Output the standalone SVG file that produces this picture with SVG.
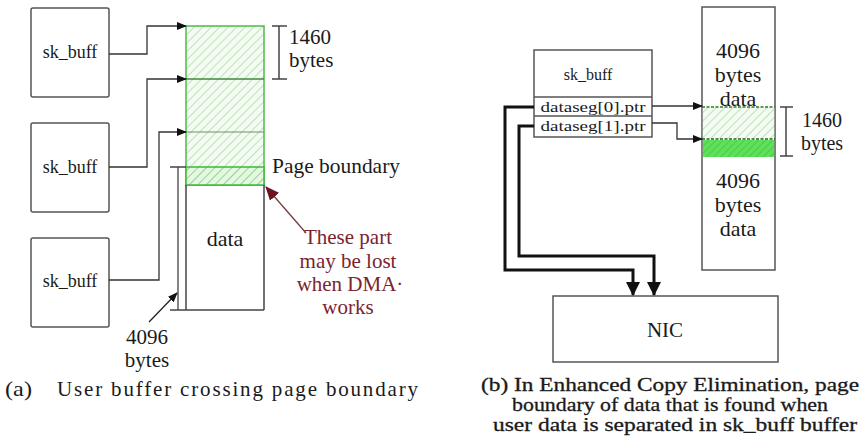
<svg xmlns="http://www.w3.org/2000/svg" width="859" height="447" viewBox="0 0 859 447">
<style>
text{font-family:"Liberation Serif","Times New Roman",serif;fill:#1a1a1a}
.box{fill:#fff;stroke:#555;stroke-width:1.5}
.ln{fill:none;stroke:#333;stroke-width:1.3}
.thick{fill:none;stroke:#111;stroke-width:3}
.red{fill:#7a2430}
.cap{stroke:#1a1a1a;stroke-width:0.3}
</style>
<defs>
<pattern id="hatch" patternUnits="userSpaceOnUse" width="6" height="6" patternTransform="rotate(45)">
<rect width="6" height="6" fill="#f4fbf2"/>
<line x1="0" y1="0" x2="0" y2="6" stroke="#9ed69a" stroke-width="1.3"/>
</pattern>
<pattern id="hatch2" patternUnits="userSpaceOnUse" width="6" height="6" patternTransform="rotate(45)">
<rect width="6" height="6" fill="#e6f7e2"/>
<line x1="0" y1="0" x2="0" y2="6" stroke="#6cc86a" stroke-width="1.4"/>
</pattern>
<pattern id="hatch3" patternUnits="userSpaceOnUse" width="5" height="5" patternTransform="rotate(45)">
<rect width="5" height="5" fill="#5ee05a"/>
<line x1="0" y1="0" x2="0" y2="5" stroke="#3cc23a" stroke-width="1.3"/>
</pattern>
<marker id="ah" markerWidth="10" markerHeight="8" refX="9" refY="4" orient="auto" markerUnits="userSpaceOnUse">
<path d="M0,0 L10,4 L0,8 Z" fill="#111"/>
</marker>
<marker id="ahb" markerWidth="14" markerHeight="14" refX="13" refY="7" orient="auto" markerUnits="userSpaceOnUse">
<path d="M0,0 L14,7 L0,14 Z" fill="#111"/>
</marker>
<marker id="ahr" markerWidth="14" markerHeight="12" refX="13" refY="6" orient="auto" markerUnits="userSpaceOnUse">
<path d="M0,0 L14,6 L0,12 Z" fill="#6e1420"/>
</marker>
</defs>

<!-- Part (a) -->
<g id="skbuff-a1"><rect class="box" x="31" y="8" width="78" height="89" rx="2"/><text x="70" y="58" font-size="18" text-anchor="middle">sk_buff</text></g>
<g id="skbuff-a2"><rect class="box" x="31" y="123" width="78" height="89" rx="2"/><text x="70" y="173" font-size="18" text-anchor="middle">sk_buff</text></g>
<g id="skbuff-a3"><rect class="box" x="31" y="238" width="78" height="89" rx="2"/><text x="70" y="287" font-size="18" text-anchor="middle">sk_buff</text></g>

<g id="page-a">
<rect x="186" y="26" width="78" height="159" fill="url(#hatch)" stroke="#4cbc48" stroke-width="1.5"/>
<rect x="186" y="167" width="78" height="18" fill="url(#hatch2)" stroke="#3db83a" stroke-width="1.5"/>
<line x1="186" y1="79" x2="264" y2="79" stroke="#3f8a3c" stroke-width="1.5"/>
<line x1="186" y1="132" x2="264" y2="132" stroke="#6f8f6c" stroke-width="1.2"/>
<path d="M186,185 V310 M264,185 V310 M170,310 H264" fill="none" stroke="#444" stroke-width="1.5"/>
<text x="225" y="246" font-size="22" text-anchor="middle">data</text>
</g>

<g id="dim-a">
<path d="M272,26 H287 M279,26 V79 M272,79 H287" fill="none" stroke="#444" stroke-width="1.5"/>
<text x="289" y="44" font-size="21">1460</text>
<text x="289" y="67" font-size="21">bytes</text>
<path d="M170,167 H186 M178,167 V310" fill="none" stroke="#444" stroke-width="1.3"/>
<text x="147" y="344" font-size="21" text-anchor="middle">4096</text>
<text x="147" y="367" font-size="21" text-anchor="middle">bytes</text>
<text x="272" y="173" font-size="21" textLength="128" lengthAdjust="spacingAndGlyphs">Page boundary</text>
<text class="red" x="348" y="244" font-size="21" text-anchor="middle">These part</text>
<text class="red" x="348" y="268" font-size="21" text-anchor="middle">may be lost</text>
<text class="red" x="350" y="291" font-size="21" text-anchor="middle">when DMA·</text>
<text class="red" x="348" y="314" font-size="21" text-anchor="middle">works</text>
</g>

<g id="connectors-a">
<path class="ln" d="M109,54 H147 V26 H186" marker-end="url(#ah)"/>
<path class="ln" d="M109,167 H147 V79 H186" marker-end="url(#ah)"/>
<path class="ln" d="M109,280 H159 V132 H186" marker-end="url(#ah)"/>
<path d="M149,322 L177,293" fill="none" stroke="#222" stroke-width="1.3" marker-end="url(#ah)"/>
<path d="M306,233 L266,187" fill="none" stroke="#7a3a40" stroke-width="1.3" marker-end="url(#ahr)"/>
</g>

<text x="5" y="396" font-size="21" textLength="27" lengthAdjust="spacingAndGlyphs">(a)</text>
<text x="57" y="396" font-size="21" textLength="361" lengthAdjust="spacing">User buffer crossing page boundary</text>

<!-- Part (b) -->
<g id="skbuff-b">
<rect class="box" x="534" y="50" width="118" height="87"/>
<line x1="534" y1="97" x2="652" y2="97" stroke="#555" stroke-width="1.5"/>
<line x1="534" y1="116" x2="652" y2="116" stroke="#555" stroke-width="1.5"/>
<text x="588" y="80" font-size="16" text-anchor="middle">sk_buff</text>
<text x="593" y="112" font-size="15" text-anchor="middle" textLength="105" lengthAdjust="spacingAndGlyphs">dataseg[0].ptr</text>
<text x="593" y="131" font-size="15" text-anchor="middle" textLength="105" lengthAdjust="spacingAndGlyphs">dataseg[1].ptr</text>
</g>

<g id="page-b">
<rect x="702" y="7" width="73" height="263" fill="#fff" stroke="#555" stroke-width="1.5"/>
<rect x="702.8" y="107" width="71.4" height="32" fill="url(#hatch)"/>
<rect x="702.8" y="140" width="71.4" height="17" fill="url(#hatch3)"/>
<line x1="702" y1="107" x2="775" y2="107" stroke="#2f7a2c" stroke-width="1.3" stroke-dasharray="3,1.5"/>
<line x1="702" y1="139" x2="775" y2="139" stroke="#2f5a2c" stroke-width="1.3" stroke-dasharray="3,1.5"/>
<text x="738" y="58" font-size="22" text-anchor="middle">4096</text>
<text x="738" y="82" font-size="22" text-anchor="middle">bytes</text>
<text x="738" y="106" font-size="22" text-anchor="middle">data</text>
<text x="738" y="188" font-size="22" text-anchor="middle">4096</text>
<text x="738" y="212" font-size="22" text-anchor="middle">bytes</text>
<text x="738" y="236" font-size="22" text-anchor="middle">data</text>
</g>

<g id="dim-b">
<path d="M780,107 H793 M786,107 V156 M780,156 H793" fill="none" stroke="#444" stroke-width="1.5"/>
<text x="822" y="127" font-size="20" text-anchor="middle">1460</text>
<text x="822" y="150" font-size="20" text-anchor="middle">bytes</text>
</g>

<g id="nic"><rect class="box" x="553" y="296" width="225" height="66"/><text x="665" y="337" font-size="21" text-anchor="middle">NIC</text></g>

<g id="connectors-b">
<path class="ln" d="M652,106 H702" marker-end="url(#ah)"/>
<path class="ln" d="M652,123 H677 V139 H702" marker-end="url(#ah)"/>
<path class="thick" d="M534,107 H505 V270 H633 V295" marker-end="url(#ahb)"/>
<path class="thick" d="M534,126 H519 V256 H654 V295" marker-end="url(#ahb)"/>
</g>

<g id="caption-b">
<text class="cap" x="481" y="391" font-size="19" textLength="378" lengthAdjust="spacingAndGlyphs">(b) In Enhanced Copy Elimination, page</text>
<text class="cap" x="512" y="411" font-size="19" textLength="316" lengthAdjust="spacingAndGlyphs">boundary of data that is found when</text>
<text class="cap" x="493" y="431" font-size="19" textLength="364" lengthAdjust="spacingAndGlyphs">user data is separated in sk_buff buffer</text>
</g>
</svg>
